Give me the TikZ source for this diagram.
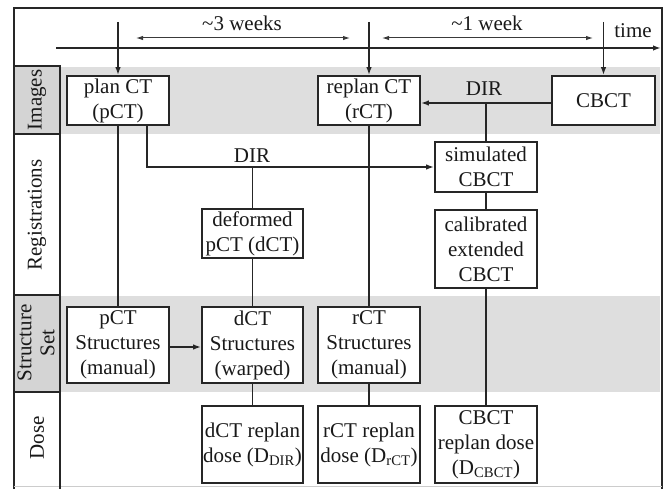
\documentclass[tikz,border=0pt]{standalone}
\usepackage{fontspec}
\setmainfont{Liberation Serif}
\usetikzlibrary{arrows.meta}
\definecolor{ln}{HTML}{262626}
\definecolor{band}{HTML}{DEDEDE}
\definecolor{cell}{HTML}{D4D4D4}
\definecolor{wk}{HTML}{3A3A3A}
\begin{document}
\begin{tikzpicture}[x=1pt,y=-1pt,
  every node/.style={font=\fontsize{21}{25}\selectfont, text=black!90},
  box/.style={draw=ln, fill=white, line width=1.7pt, align=center, inner sep=0pt, minimum width=102pt, minimum height=#1},
  conn/.style={draw=ln, line width=1.7pt},
  arr/.style={conn, -{Latex[length=8pt,width=5.5pt]}},
  weekarr/.style={draw=wk, line width=1pt, {Latex[length=7pt,width=4.5pt]}-{Latex[length=7pt,width=4.5pt]}},
  lanecell/.style={draw=ln, line width=1.7pt},
  lanelbl/.style={rotate=90, align=center, inner sep=0pt, font=\fontsize{21}{23}\selectfont}]
\useasboundingbox (0,0) rectangle (666,489);
% bands
\fill[band] (60,67) rectangle (660,134);
\fill[band] (60,296) rectangle (660,392);
% frame
\draw[ln, line width=1.7pt] (14,489) -- (14,8) -- (662,8) -- (662,489);
\draw[gray!40, line width=0.6pt] (14,486) -- (662,486);
% lane label cells
\draw[lanecell, fill=cell] (14,66) rectangle (60,134);
\draw[lanecell] (14,134) rectangle (60,295);
\draw[lanecell, fill=cell] (14,295) rectangle (60,392);
\draw[lanecell] (14,392) -- (60,392) -- (60,489);
\node[lanelbl] (lImg) at (37,100) {Images};
\node[lanelbl] (lReg) at (37,215) {Registrations};
\node[lanelbl] (lStr) at (36,343) {Structure\\Set};
\node[lanelbl] (lDose) at (37,438) {Dose};
% timeline
\coordinate (t0) at (56,48);
\coordinate (t1) at (661,48);
\draw[arr] (t0) -- (t1);
\node (time) at (633,31) {time};
\coordinate (w1a) at (136,38);
\coordinate (w1b) at (350,38);
\coordinate (w2a) at (382,38);
\coordinate (w2b) at (593,38);
\draw[weekarr] (w1a) -- (w1b);
\draw[weekarr] (w2a) -- (w2b);
\node (wk3) at (242,23) {\textasciitilde3 weeks};
\node (wk1) at (487,23) {\textasciitilde1 week};
% boxes
\node[box=49pt] (pct) at (118,100.5) {plan CT\\(pCT)};
\node[box=49pt] (rct) at (369,100.5) {replan CT\\(rCT)};
\node[box=49pt, minimum width=103pt] (cbct) at (603.5,100.5) {CBCT};
\node[box=50pt] (sim) at (486,167) {simulated\\CBCT};
\node[box=78pt] (cal) at (486,249) {calibrated\\extended\\CBCT};
\node[box=49pt, minimum width=101pt] (def) at (252.5,233.5) {deformed\\pCT (dCT)};
\node[box=76pt] (ps) at (118,345) {pCT\\Structures\\(manual)};
\node[box=76pt, minimum width=101pt] (ds) at (252.5,345) {dCT\\Structures\\(warped)};
\node[box=76pt] (rs) at (369,345) {rCT\\Structures\\(manual)};
\node[box=77pt, minimum width=101pt] (dd) at (252.5,444.5) {dCT replan\\dose (D\textsubscript{DIR})};
\node[box=77pt] (rd) at (369,444.5) {rCT replan\\dose (D\textsubscript{rCT})};
\node[box=77pt] (cd) at (486,444.5) {CBCT\\replan dose\\(D\textsubscript{CBCT})};
% time arrows into images
\coordinate (a1) at (118,22);
\coordinate (a2) at (369,22);
\coordinate (a3) at (603.5,22);
\draw[arr] (a1) -- (pct.north);
\draw[arr] (a2) -- (rct.north);
\draw[arr] (a3) -- (cbct.north);
% DIR CBCT -> rCT
\draw[arr] ([yshift=-2.5pt]cbct.west) -- ([yshift=-2.5pt]rct.east);
\node (dir1) at (484,89) {DIR};
\coordinate (j1) at (486,103);
\draw[conn] (j1) -- (sim.north);
% DIR pCT -> simulated
\draw[arr] ([xshift=29pt]pct.south) |- (sim.west);
\node (dir2) at (252,156) {DIR};
\coordinate (j2) at (252.5,167);
\draw[conn] (j2) -- (def.north);
% vertical links
\draw[conn] (pct.south) -- (ps.north);
\draw[conn] (rct.south) -- (rs.north);
\draw[conn] (def.south) -- (ds.north);
\draw[conn] (ds.south) -- (dd.north);
\draw[conn] (rs.south) -- (rd.north);
\draw[conn] (sim.south) -- (cal.north);
\draw[conn] (cal.south) -- (cd.north);
\draw[arr] ([yshift=-2pt]ps.east) -- ([yshift=-2pt]ds.west);
\end{tikzpicture}
\end{document}
